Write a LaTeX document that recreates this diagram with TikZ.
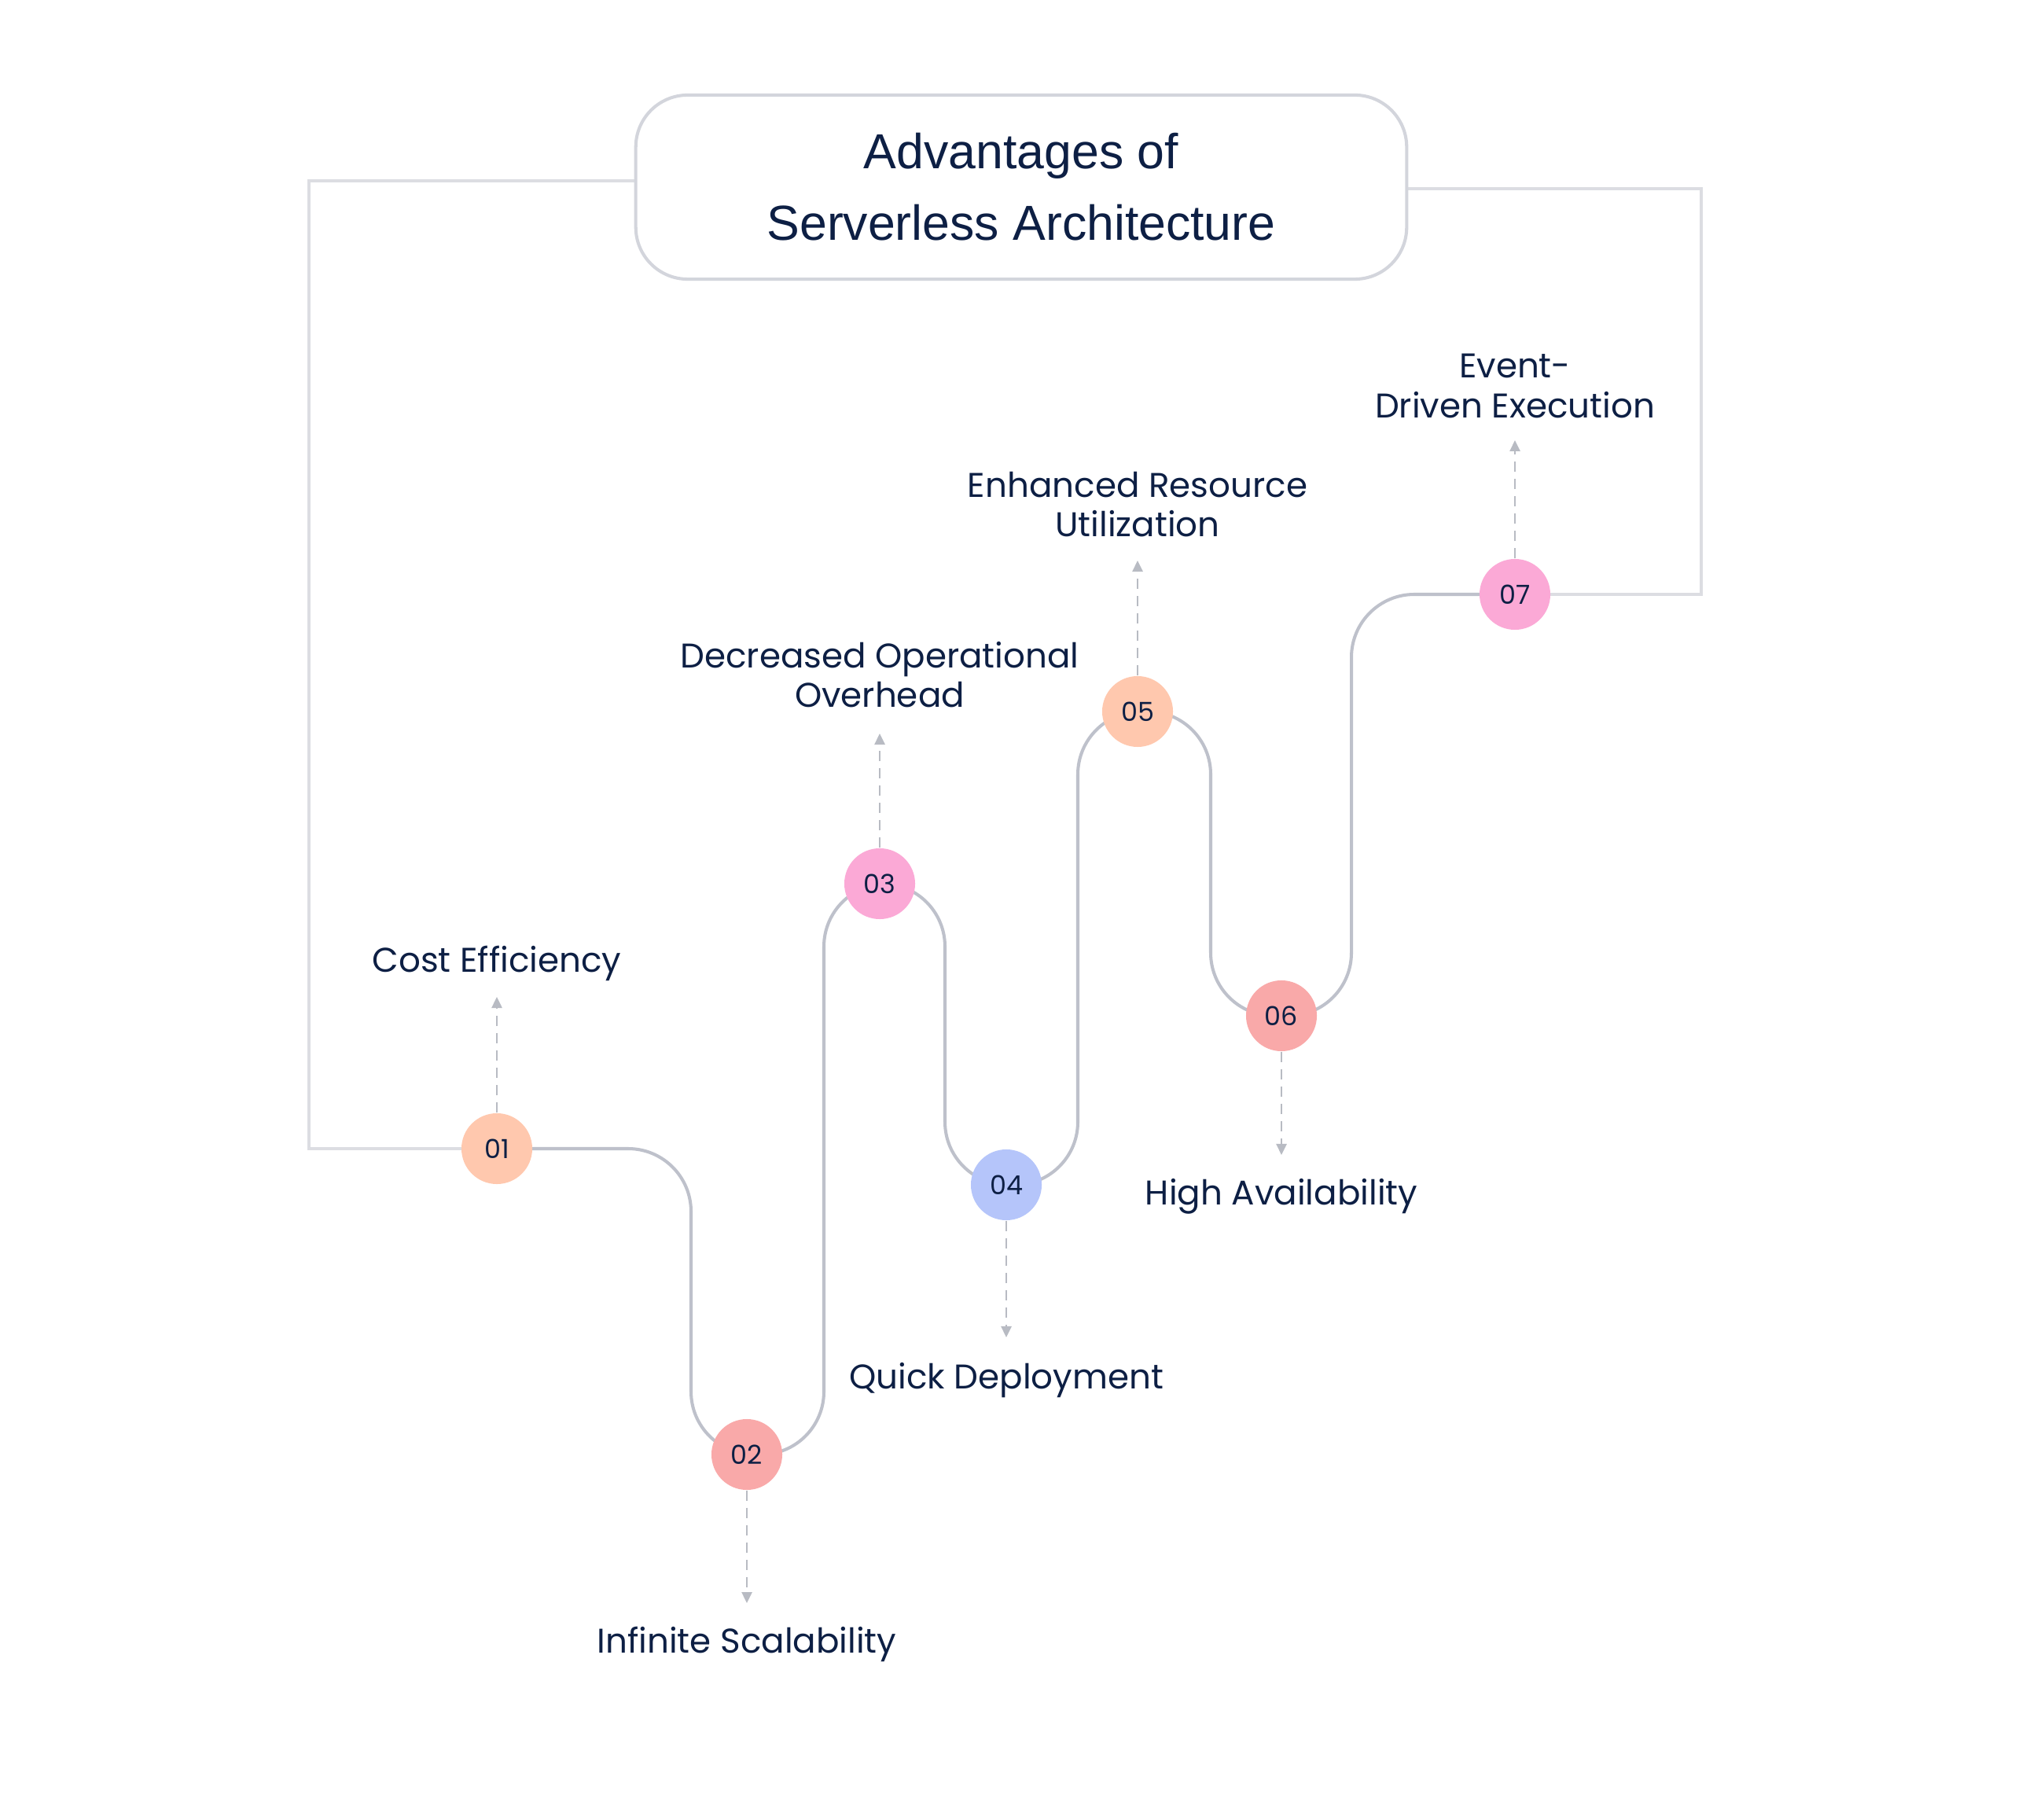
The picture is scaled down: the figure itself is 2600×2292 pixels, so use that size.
\documentclass[tikz,border=0pt]{standalone}
\usepackage{fontspec}
\setmainfont{Poppins}
\newfontfamily\titlefont{Liberation Sans}
\usetikzlibrary{arrows.meta,backgrounds}
\definecolor{ink}{RGB}{13,31,68}
\definecolor{peach}{RGB}{255,200,174}
\definecolor{salmon}{RGB}{249,169,169}
\definecolor{pinkc}{RGB}{251,169,214}
\definecolor{bluec}{RGB}{181,197,250}
\definecolor{wavegray}{RGB}{190,193,203}
\definecolor{framegray}{RGB}{220,221,226}
\definecolor{boxgray}{RGB}{211,213,220}
\definecolor{dashgray}{RGB}{184,187,195}
\tikzset{
  num/.style={circle, minimum size=0.9cm, inner sep=0pt, font=\fontsize{9.5}{10}\selectfont, text=ink},
  lbl/.style={font=\fontsize{12.4}{14.5}\selectfont, text=ink, align=center, inner sep=0pt, anchor=base},
  wave/.style={draw=wavegray, line width=1.15pt, rounded corners=0.8cm},
  frameline/.style={draw=framegray, line width=1.4pt},
  dasharrow/.style={draw=dashgray, line width=0.7pt, dash pattern=on 0.13cm off 0.09cm, -{Triangle[length=0.14cm,width=0.13cm]}},
  titlebox/.style={rectangle, rounded corners=0.66cm, draw=boxgray, line width=1.15pt, fill=white,
    minimum width=9.8cm, minimum height=2.34cm, align=center, text=ink,
    font=\titlefont\fontsize{17.8}{25.9}\selectfont}
}
\begin{document}
\begin{tikzpicture}[x=0.01cm,y=-0.01cm]
\useasboundingbox (0,0) rectangle (2600,2292);
\node[titlebox] (title) at (1299,238) {Advantages of\\Serverless Architecture};
\node[num, fill=peach] (n1) at (632,1461) {01};
\node[num, fill=salmon] (n2) at (950,1850) {02};
\node[num, fill=pinkc] (n3) at (1119,1124) {03};
\node[num, fill=bluec] (n4) at (1280,1507) {04};
\node[num, fill=peach] (n5) at (1447,905) {05};
\node[num, fill=salmon] (n6) at (1630,1292) {06};
\node[num, fill=pinkc] (n7) at (1927,756) {07};
\node[lbl] (t1) at (632,1237) {Cost Efficiency};
\node[lbl] (t2) at (950,2102) {Infinite Scalability};
\node[lbl] (t3) at (1119,900) {Decreased Operational\\Overhead};
\node[lbl] (t4) at (1280,1766) {Quick Deployment};
\node[lbl] (t5) at (1447,683) {Enhanced Resource\\Utilization};
\node[lbl] (t6) at (1630,1532) {High Availability};
\node[lbl] (t7) at (1927,532) {Event-\\Driven Execution};
\coordinate (a1) at (632,1268);
\coordinate (a2) at (950,2039);
\coordinate (a3) at (1119,933);
\coordinate (a4) at (1280,1701);
\coordinate (a5) at (1447,713);
\coordinate (a6) at (1630,1469);
\coordinate (a7) at (1927,560);
\foreach \i in {1,...,7}{\draw[dasharrow] (n\i) -- (a\i);}
\coordinate (lf) at (0,230);
\coordinate (rf) at (0,240);
\begin{scope}[on background layer]
\fill[white] (0,0) rectangle (2600,2292);
\draw[frameline] (title.west |- lf) -- (393,230) -- (393,1461) -- (n1.center);
\draw[frameline] (title.east |- rf) -- (2164,240) -- (2164,756) -- (n7.center);
\draw[wave] (n1.center) -- (879,1461) -- (879,1850) -- (n2.center);
\draw[wave] (n2.center) -- (1048,1850) -- (1048,1124) -- (n3.center);
\draw[wave] (n3.center) -- (1202,1124) -- (1202,1507) -- (n4.center);
\draw[wave] (n4.center) -- (1371,1507) -- (1371,905) -- (n5.center);
\draw[wave] (n5.center) -- (1540,905) -- (1540,1292) -- (n6.center);
\draw[wave] (n6.center) -- (1719,1292) -- (1719,756) -- (n7.center);
\end{scope}
\end{tikzpicture}
\end{document}
